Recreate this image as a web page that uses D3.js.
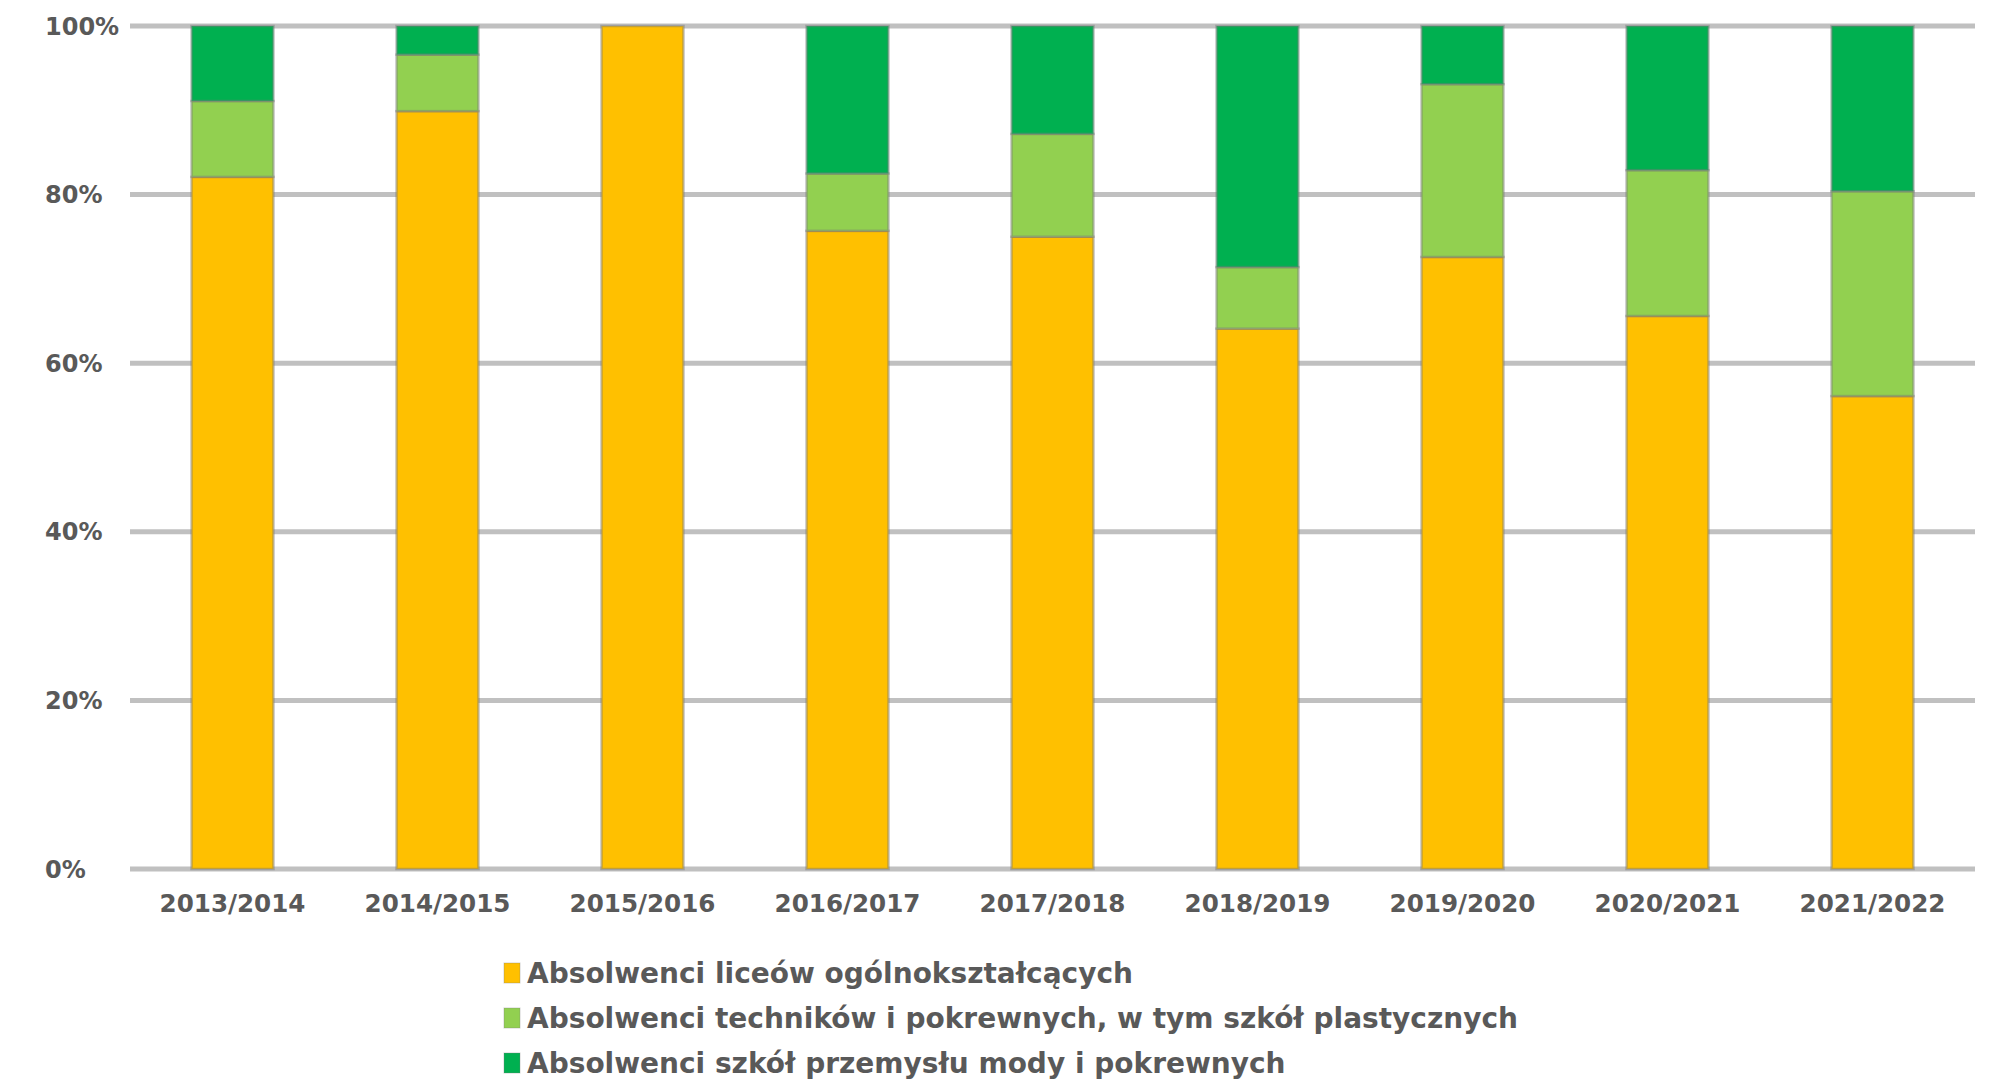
<!DOCTYPE html>
<html>
<head>
<meta charset="utf-8">
<script src="https://cdn.jsdelivr.net/npm/d3@7"></script>
<style>
  html, body { margin: 0; padding: 0; background: #ffffff; }
  svg { display: block; }
  text { font-family: "DejaVu Sans", Verdana, sans-serif; font-weight: bold; fill: #595959; }
</style>
</head>
<body>
<svg id="chart" width="1992" height="1085"></svg>
<script>
// School years
const categories = ["2013/2014", "2014/2015", "2015/2016", "2016/2017", "2017/2018",
                    "2018/2019", "2019/2020", "2020/2021", "2021/2022"];

// Share of graduates by school type (%)
const liceaOgolnoksztalcace = [82.1, 89.9, 100, 75.7, 75.0, 64.1, 72.6, 65.6, 56.1];
const technikaPlastyczne    = [9.0, 6.7, 0, 6.8, 12.2, 7.3, 20.5, 17.3, 24.3];
const przemyslMody          = [8.9, 3.4, 0, 17.5, 12.8, 28.6, 6.9, 17.1, 19.6];

const seriesNames = [
  "Absolwenci liceów ogólnokształcących",
  "Absolwenci techników i pokrewnych, w tym szkół plastycznych",
  "Absolwenci szkół przemysłu mody i pokrewnych"
];
const seriesColors = ["#FFC000", "#92D050", "#00B050"];

const yTicks = [0, 20, 40, 60, 80, 100];

const rows = categories.map((c, i) => ({
  cat: c,
  s0: liceaOgolnoksztalcace[i],
  s1: technikaPlastyczne[i],
  s2: przemyslMody[i]
}));

const svg = d3.select("#chart");

const x = d3.scaleBand()
  .domain(categories)
  .range([130, 1975])
  .paddingInner(0.6)
  .paddingOuter(0.3);

const y = d3.scaleLinear().domain([0, 100]).range([869, 26]);

// Horizontal gridlines
svg.append("g")
  .selectAll("line")
  .data(yTicks)
  .join("line")
  .attr("x1", 130)
  .attr("x2", 1975)
  .attr("y1", d => y(d))
  .attr("y2", d => y(d))
  .attr("stroke", "#c0c0c0")
  .attr("stroke-width", 5);

// Y axis labels
svg.append("g")
  .selectAll("text")
  .data(yTicks)
  .join("text")
  .attr("x", 45)
  .attr("y", d => y(d))
  .attr("dy", "0.36em")
  .attr("font-size", 24)
  .text(d => d + "%");

// Stacked bars
const stack = d3.stack().keys(["s0", "s1", "s2"]);
const stacked = stack(rows);

svg.append("g")
  .selectAll("g")
  .data(stacked)
  .join("g")
  .attr("fill", (d, i) => seriesColors[i])
  .selectAll("rect")
  .data(d => d.filter(p => p[1] - p[0] > 0))
  .join("rect")
  .attr("x", d => x(d.data.cat))
  .attr("width", x.bandwidth())
  .attr("y", d => y(d[1]))
  .attr("height", d => y(d[0]) - y(d[1]))
  .attr("stroke", "rgba(120,120,120,0.45)")
  .attr("stroke-width", 2.5);

// X axis labels
svg.append("g")
  .selectAll("text")
  .data(categories)
  .join("text")
  .attr("x", d => x(d) + x.bandwidth() / 2)
  .attr("y", 912)
  .attr("text-anchor", "middle")
  .attr("font-size", 24.6)
  .text(d => d);

// Legend
const legend = svg.append("g")
  .selectAll("g")
  .data(seriesNames)
  .join("g")
  .attr("transform", (d, i) => `translate(504, ${963 + i * 45})`);

legend.append("rect")
  .attr("width", 16)
  .attr("height", 20)
  .attr("fill", (d, i) => seriesColors[i])
  .attr("stroke", "rgba(120,120,120,0.35)")
  .attr("stroke-width", 1);

legend.append("text")
  .attr("x", 23)
  .attr("y", 20)
  .attr("font-size", 28)
  .text(d => d);
</script>
</body>
</html>
